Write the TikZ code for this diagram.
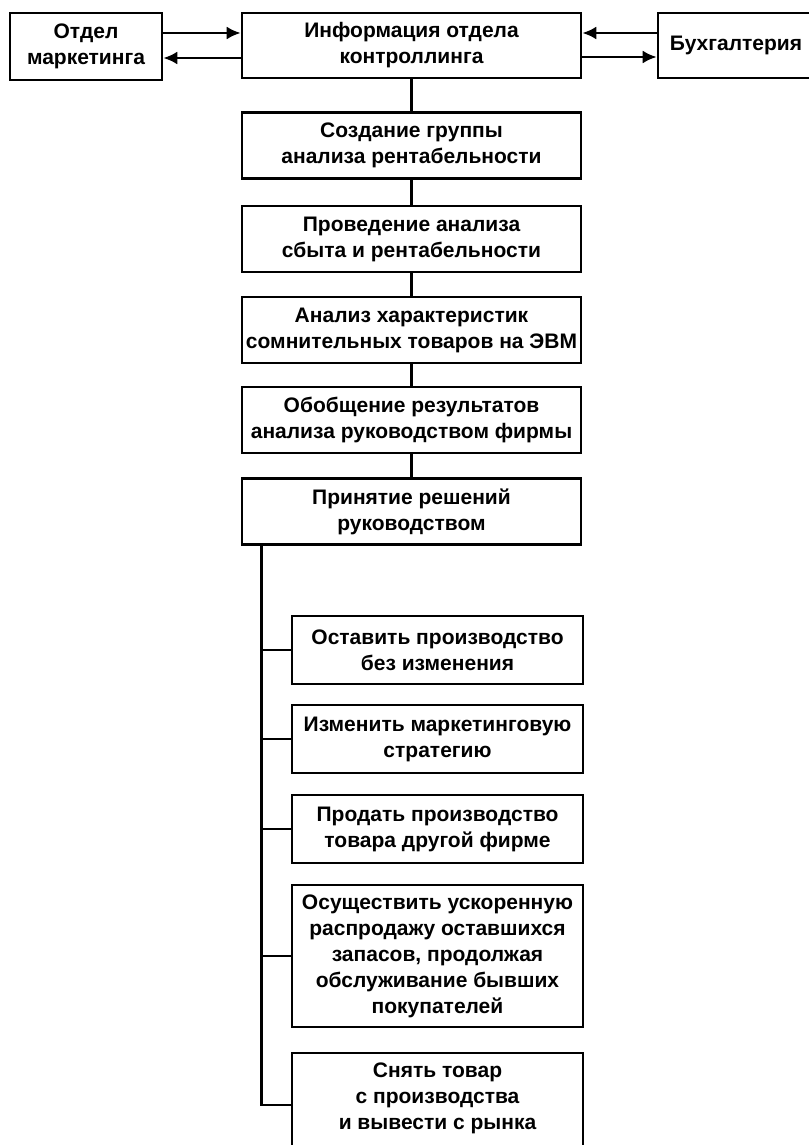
\documentclass[tikz,border=0pt]{standalone}
\usepackage{fontspec}
\setmainfont{Liberation Sans}
\usetikzlibrary{arrows.meta}

\begin{document}
\begin{tikzpicture}[x=1pt,y=-1pt,
    font=\bfseries\fontsize{21}{26}\selectfont,
    blk/.style={draw,line width=2.6pt,align=center,inner sep=2pt,minimum height=66pt},
    mainblk/.style={blk,minimum width=339pt},
    subblk/.style={blk,minimum width=291pt},
    ln/.style={line width=2.6pt},
    arr/.style={ln,-{Latex[length=14pt,width=13pt]}}]
  \useasboundingbox (0,0) rectangle (808,1145);

  \node[blk,minimum width=152pt,minimum height=67pt] (mkt) at (86,46.5) {Отдел\\маркетинга};
  \node[mainblk,minimum height=65pt] (info) at (411.5,45.5) {Информация отдела\\контроллинга};
  \node[blk,minimum width=156pt,minimum height=65pt] (acc) at (736,45.5) {Бухгалтерия};

  \draw[arr] (mkt.east |- 0,33) -- (info.west |- 0,33);
  \draw[arr] (info.west |- 0,58) -- (mkt.east |- 0,58);
  \draw[arr] (acc.west |- 0,33) -- (info.east |- 0,33);
  \draw[arr] (info.east |- 0,57) -- (acc.west |- 0,57);

  \node[mainblk] (grp) at (411.5,145.5) {Создание группы\\анализа рентабельности};
  \node[mainblk] (anl) at (411.5,239) {Проведение анализа\\сбыта и рентабельности};
  \node[mainblk] (evm) at (411.5,330) {Анализ характеристик\\сомнительных товаров на ЭВМ};
  \node[mainblk] (gen) at (411.5,420) {Обобщение результатов\\анализа руководством фирмы};
  \node[mainblk] (dec) at (411.5,511.5) {Принятие решений\\руководством};

  \draw[ln] (info) -- (grp);
  \draw[ln] (grp) -- (anl);
  \draw[ln] (anl) -- (evm);
  \draw[ln] (evm) -- (gen);
  \draw[ln] (gen) -- (dec);

  \node[subblk,minimum height=68pt] (s1) at (437.5,650) {Оставить производство\\без изменения};
  \node[subblk,minimum height=68pt] (s2) at (437.5,739) {Изменить маркетинговую\\стратегию};
  \node[subblk,minimum height=68pt] (s3) at (437.5,829) {Продать производство\\товара другой фирме};
  \node[subblk,minimum height=142pt] (s4) at (437.5,956) {Осуществить ускоренную\\распродажу оставшихся\\запасов, продолжая\\обслуживание бывших\\покупателей};
  \node[subblk,minimum height=104pt,text depth=18pt] (s5) at (437.5,1105) {Снять товар\\с производства\\и вывести с рынка};

  \draw[ln] ([xshift=21pt]dec.south west) coordinate (trunk) |- (s5.west);
  \foreach \s in {s1,s2,s3,s4}
    \draw[ln] (trunk |- \s.west) -- (\s.west);
\end{tikzpicture}
\end{document}
